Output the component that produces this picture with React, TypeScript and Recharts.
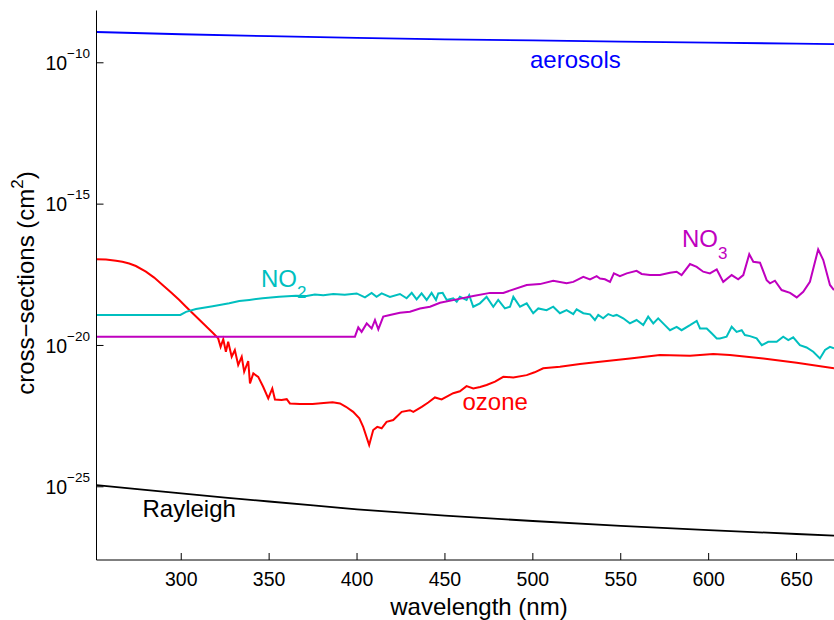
import { LineChart, Line, XAxis, YAxis } from 'recharts'

const FONT = '"Liberation Sans", Arial, Helvetica, sans-serif'

// wavelength ticks (nm) and decade ticks (log10 of cm^2)
const X_TICKS = [300, 350, 400, 450, 500, 550, 600, 650]
const Y_TICKS = [-25, -20, -15, -10]
const X_DOMAIN = [251.8, 671.3]
const Y_DOMAIN = [-27.59, -8.15]

// all series values are log10 of the cross-section in cm^2
const aerosolNm = [251.8, 300, 350, 400, 450, 500, 550, 600, 650, 671.3]
const aerosolLog = [-8.91, -8.99, -9.06, -9.12, -9.17, -9.21, -9.25, -9.29, -9.32, -9.34]

const rayleighNm = [251.8, 275, 300, 325, 350, 375, 400, 450, 500, 550, 600, 650, 671.3]
const rayleighLog = [-24.94, -25.08, -25.23, -25.38, -25.52, -25.66, -25.8, -26.02, -26.21, -26.38, -26.53, -26.67, -26.73]

const ozoneNm = [
  251.8, 257.2, 262.9, 266.5, 270.4, 274.2, 279.9, 284.6, 289.4, 294.1,
  298.9, 302.7, 306.5, 312.5, 318.2, 321.0,
  322.4, 323.9, 325.4, 326.7, 328.7, 330.5, 332.4, 334.4, 335.8, 338.1,
  339.1, 341.0, 343.8, 346.6, 349.5, 351.8, 353.3, 357.1, 360.0, 361.8,
  367.5, 374.7, 381.0, 386.1, 390.3, 393.7, 397.8, 401.3, 403.5, 406.9, 409.2,
  411.5, 414.0, 416.8, 420.6, 425.4, 430.1, 432.0, 436.8, 440.5, 444.3, 448.1, 454.7,
  458.5, 462.3, 466.1, 470.0, 473.7, 478.5, 483.2, 488.9, 496.5, 501.0, 505.9, 515.4, 526.8, 538.2,
  555.3, 572.3, 589.4, 602.6, 612.1, 631.1, 650.1, 671.3,
]
const ozoneLog = [
  -16.95, -16.96, -17.0, -17.04, -17.1, -17.19, -17.39, -17.6, -17.86, -18.12,
  -18.39, -18.63, -18.86, -19.22, -19.57, -19.75,
  -20.05, -19.78, -20.22, -19.87, -20.4, -20.16, -20.69, -20.4, -20.93, -20.55,
  -21.34, -20.99, -21.11, -21.46, -21.87, -21.52, -21.91, -21.93, -21.9, -22.05,
  -22.07, -22.07, -22.04, -22.01, -22.05, -22.17, -22.35, -22.58, -22.88, -23.52, -22.99,
  -22.88, -22.93, -22.7, -22.64, -22.35, -22.29, -22.35, -22.17, -22.02, -21.84, -21.91, -21.69,
  -21.62, -21.44, -21.52, -21.47, -21.4, -21.28, -21.11, -21.13, -21.05, -20.95, -20.81, -20.75, -20.66, -20.58,
  -20.46, -20.34, -20.36, -20.3, -20.34, -20.46, -20.61, -20.81,
]

const no2Nm = [
  251.8, 299.5, 302.7, 308.4, 317.9, 327.3, 333.0, 338.7, 346.3, 355.7,
  365.2, 371.3, 376.0, 380.8, 386.5, 393.0, 399.8, 404.5, 408.3, 411.1,
  414.0, 418.7, 424.4, 428.2, 431.1, 433.9, 436.7, 439.6, 442.4, 444.9,
  446.2, 448.7, 451.0, 454.7, 456.7, 458.5, 462.3, 463.8, 466.1, 469.9,
  473.7, 477.5, 480.3, 484.1, 487.0, 488.9, 492.7, 496.5, 500.2, 503.1,
  507.8, 511.6, 515.4, 519.2, 523.0, 524.9, 528.7, 532.5, 535.3, 537.2,
  540.0, 542.9, 545.7, 547.7, 551.4, 555.2, 559.0, 562.8, 565.6, 568.5,
  571.3, 575.1, 578.0, 581.8, 584.6, 589.4, 593.2, 595.1, 598.9, 601.7,
  604.6, 606.4, 610.2, 613.1, 615.9, 618.8, 620.6, 623.5, 627.3, 630.2,
  633.9, 638.7, 642.4, 645.3, 648.1, 651.9, 655.7, 659.5, 663.3, 666.2,
  669.0, 671.3,
]
const no2Log = [
  -18.92, -18.92, -18.81, -18.71, -18.61, -18.51, -18.43, -18.39, -18.33, -18.28,
  -18.24, -18.25, -18.2, -18.22, -18.18, -18.21, -18.16, -18.3, -18.14, -18.28,
  -18.16, -18.28, -18.18, -18.33, -18.14, -18.37, -18.16, -18.39, -18.14, -18.39,
  -18.16, -18.14, -18.39, -18.33, -18.45, -18.28, -18.39, -18.22, -18.63, -18.51,
  -18.28, -18.63, -18.39, -18.69, -18.63, -18.28, -18.63, -18.51, -18.86, -18.69,
  -18.75, -18.63, -18.86, -18.75, -18.89, -18.72, -18.86, -18.9, -19.1, -18.92,
  -19.04, -18.89, -18.96, -18.92, -19.04, -19.22, -19.1, -19.28, -18.98, -19.22,
  -19.04, -19.28, -19.46, -19.34, -19.46, -19.28, -19.13, -19.4, -19.4, -19.57,
  -19.75, -19.75, -19.69, -19.34, -19.52, -19.46, -19.63, -19.67, -19.75, -19.99,
  -19.87, -19.87, -19.69, -19.81, -19.71, -19.99, -20.07, -20.22, -20.46, -20.16,
  -20.05, -20.1,
]

const no3Nm = [
  251.8, 398.8, 400.7, 402.6, 405.5, 408.3, 410.2, 412.1, 414.9, 418.7,
  424.4, 430.1, 435.8, 441.5, 447.2, 456.7, 466.1, 475.6, 483.2, 496.5,
  504.0, 511.6, 519.2, 523.0, 528.7, 532.5, 536.3, 538.2, 541.0, 543.9,
  546.1, 549.5, 553.4, 559.0, 561.9, 566.6, 572.3, 578.0, 581.8, 584.6,
  589.4, 593.2, 596.9, 600.7, 604.6, 608.3, 613.1, 616.8, 619.7, 623.1,
  625.4, 629.2, 633.0, 634.9, 637.7, 641.5, 646.3, 650.1, 653.8, 657.6,
  662.3, 665.2, 669.0, 671.3,
]
const no3Log = [
  -19.69, -19.69, -19.36, -19.52, -19.22, -19.4, -19.1, -19.43, -18.98, -18.92,
  -18.84, -18.81, -18.69, -18.63, -18.49, -18.37, -18.25, -18.14, -18.14, -17.86,
  -17.83, -17.71, -17.8, -17.75, -17.57, -17.66, -17.55, -17.63, -17.66, -17.75,
  -17.45, -17.55, -17.45, -17.36, -17.47, -17.51, -17.51, -17.43, -17.39, -17.51,
  -17.12, -17.22, -17.39, -17.45, -17.31, -17.75, -17.51, -17.66, -17.51, -16.77,
  -17.04, -17.07, -17.69, -17.8, -17.71, -18.04, -18.14, -18.3, -18.1, -17.75,
  -16.6, -16.98, -17.86, -18.04,
]

const rows = (nm: number[], lg: number[]) => nm.map((x, i) => ({ nm: x, v: lg[i] }))

function BottomTick({ x, y, payload }: any) {
  return (
    <g>
      <line x1={x} x2={x} y1={y} y2={y - 7} stroke="#000" />
      <text x={x} y={y + 25.5} textAnchor="middle" fontSize={19.5} fontFamily={FONT} fill="#000">
        {payload.value}
      </text>
    </g>
  )
}

function TopTick({ x, y }: any) {
  return <line x1={x} x2={x} y1={y} y2={y + 7} stroke="#000" />
}

function LeftTick({ x, y, payload }: any) {
  return (
    <g>
      <line x1={x} x2={x + 7} y1={y} y2={y} stroke="#000" />
      <text x={x - 6.5} y={y + 7.3} textAnchor="end" fontSize={19.5} fontFamily={FONT} fill="#000">
        <tspan>10</tspan>
        <tspan dy={-12} fontSize={13.5}>{'\u2212' + Math.abs(payload.value)}</tspan>
      </text>
    </g>
  )
}

export default function App() {
  const lineProps = { type: 'linear' as const, dataKey: 'v', dot: false, isAnimationActive: false, strokeWidth: 2 }

  return (
    <div style={{ position: 'fixed', left: 0, top: 0, width: 834, height: 620, overflow: 'hidden', background: '#fff' }}>
      <LineChart width={834} height={620} margin={{ top: 10.5, right: 0, bottom: 0, left: 0 }}>
        <XAxis
          dataKey="nm"
          type="number"
          domain={X_DOMAIN}
          ticks={X_TICKS}
          interval={0}
          allowDataOverflow
          height={60}
          tickSize={0}
          tickMargin={0}
          tickLine={false}
          axisLine={{ stroke: '#000' }}
          tick={BottomTick}
        />
        <XAxis
          xAxisId="top"
          orientation="top"
          type="number"
          domain={X_DOMAIN}
          ticks={X_TICKS}
          interval={0}
          allowDataOverflow
          height={0}
          tickSize={0}
          tickMargin={0}
          tickLine={false}
          axisLine={{ stroke: '#000' }}
          tick={TopTick}
        />
        <YAxis
          type="number"
          domain={Y_DOMAIN}
          ticks={Y_TICKS}
          interval={0}
          allowDataOverflow
          width={96.5}
          tickSize={0}
          tickMargin={0}
          tickLine={false}
          axisLine={{ stroke: '#000' }}
          tick={LeftTick}
        />
        <Line {...lineProps} data={rows(rayleighNm, rayleighLog)} stroke="#000000" strokeWidth={1.8} />
        <Line {...lineProps} data={rows(aerosolNm, aerosolLog)} stroke="#0000ff" strokeWidth={1.8} />
        <Line {...lineProps} data={rows(ozoneNm, ozoneLog)} stroke="#ff0000" />
        <Line {...lineProps} data={rows(no2Nm, no2Log)} stroke="#00bfbf" />
        <Line {...lineProps} data={rows(no3Nm, no3Log)} stroke="#bf00bf" />
      </LineChart>

      {/* series names and axis titles */}
      <svg width={834} height={620} style={{ position: 'absolute', left: 0, top: 0, pointerEvents: 'none' }}>
        <g fontFamily={FONT} fontSize={24}>
          <text x={530} y={68} fill="#0000ff">aerosols</text>
          <text x={682} y={246.7} fill="#bf00bf">
            NO<tspan fontSize={17} dy={12.6}>3</tspan>
          </text>
          <text x={261} y={287.3} fill="#00bfbf">
            NO<tspan fontSize={17} dy={11}>2</tspan>
          </text>
          <text x={462.5} y={410} fill="#ff0000">ozone</text>
          <text x={142.5} y={516.5} fill="#000">Rayleigh</text>
          <text x={479} y={615} textAnchor="middle" fill="#000">wavelength (nm)</text>
          <text transform="translate(34,283) rotate(-90)" textAnchor="middle" fill="#000">
            cross{'\u2212'}sections (cm<tspan fontSize={17} dy={-11}>2</tspan><tspan dy={11}>)</tspan>
          </text>
        </g>
      </svg>
    </div>
  )
}
